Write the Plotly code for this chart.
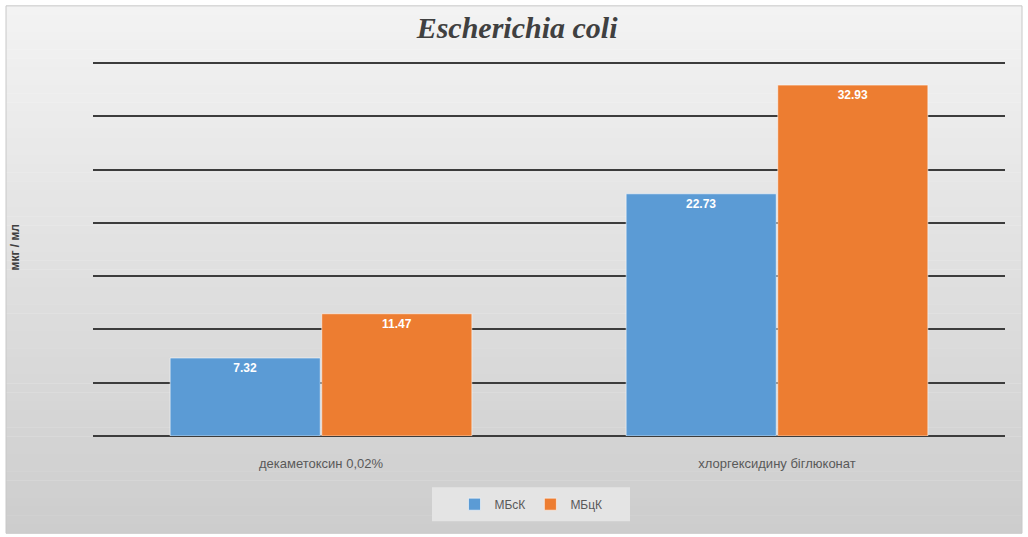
import plotly.graph_objects as go

# Data
categories = ["декаметоксин 0,02%", "хлоргексидину біглюконат"]
series_names = ["МБсК", "МБцК"]
mbsk_values = [7.32, 22.73]
mbck_values = [11.47, 32.93]

W, H = 1028, 537
L, R, T, B = 93, 1005, 63, 436  # plot area in pixels


def px_x(px):
    return (px - L) / (R - L)


def px_y(py):
    return (B - py) / (B - T)


fig = go.Figure()

colors = ["#5B9BD5", "#ED7D31"]
for name, vals, col in zip(series_names, [mbsk_values, mbck_values], colors):
    fig.add_trace(go.Bar(
        name=name,
        x=categories,
        y=vals,
        marker=dict(color=col, line=dict(color="rgba(255,255,255,0.55)", width=1)),
        text=[f"{v:.2f}" for v in vals],
        textposition="inside",
        insidetextanchor="end",
        textfont=dict(color="white", size=12, family="Liberation Sans", weight="bold"),
        cliponaxis=False,
    ))

# Vertical grey gradient behind the whole chart frame
shapes = []
top_px, bot_px, left_px, right_px = 7, 533, 6, 1022
n_bands = 60
c0, c1 = (243, 243, 243), (205, 205, 205)
for i in range(n_bands):
    t = i / (n_bands - 1)
    c = tuple(int(round(c0[k] + (c1[k] - c0[k]) * t)) for k in range(3))
    y0 = top_px + (bot_px - top_px) * i / n_bands
    y1 = top_px + (bot_px - top_px) * (i + 1) / n_bands
    shapes.append(dict(
        type="rect", xref="paper", yref="paper", layer="below",
        x0=px_x(left_px), x1=px_x(right_px), y0=px_y(y1), y1=px_y(y0) + 0.001,
        fillcolor=f"rgb{c}", line=dict(width=0),
    ))
# frame outline
shapes.append(dict(
    type="rect", xref="paper", yref="paper", layer="below",
    x0=px_x(left_px), x1=px_x(right_px), y0=px_y(bot_px), y1=px_y(top_px),
    fillcolor="rgba(0,0,0,0)", line=dict(color="#c8c8c8", width=1),
))
# lighter panel behind legend
shapes.append(dict(
    type="rect", xref="paper", yref="paper", layer="below",
    x0=px_x(432), x1=px_x(630), y0=px_y(521), y1=px_y(487),
    fillcolor="#e4e4e4", line=dict(width=0),
))

fig.update_layout(
    width=W, height=H,
    margin=dict(l=L, r=W - R, t=T - 1, b=H - B),
    paper_bgcolor="white",
    plot_bgcolor="rgba(0,0,0,0)",
    shapes=shapes,
    barmode="group",
    bargap=0.335,
    bargroupgap=0.01,
    title=dict(
        text="Escherichia coli",
        x=0.503, xanchor="center",
        y=1 - 27 / H, yanchor="middle",
        font=dict(family="Liberation Serif", size=30, color="#404040",
                  weight="bold", style="italic"),
    ),
    xaxis=dict(
        showgrid=False, showline=False, ticks="",
        ticklabelstandoff=18,
        tickfont=dict(family="Liberation Sans", size=13, color="#595959"),
    ),
    yaxis=dict(
        range=[0, 35.1], tickvals=[0, 5, 10, 15, 20, 25, 30, 35],
        showgrid=True, gridcolor="#3c3c3c", gridwidth=2,
        zeroline=True, zerolinecolor="#3c3c3c", zerolinewidth=2,
        showticklabels=False, ticks="",
    ),
    legend=dict(
        orientation="h", x=px_x(531), xanchor="center",
        y=px_y(504), yanchor="middle",
        bgcolor="rgba(0,0,0,0)",
        font=dict(family="Liberation Sans", size=12, color="#595959"),
        itemwidth=30, traceorder="normal",
    ),
    annotations=[dict(
        text="мкг / мл", textangle=-90, showarrow=False,
        xref="paper", yref="paper", x=px_x(15), y=px_y(248),
        xanchor="center", yanchor="middle",
        font=dict(family="Liberation Sans", size=12, color="#404040", weight="bold"),
    )],
)

fig.write_html("out.html")
